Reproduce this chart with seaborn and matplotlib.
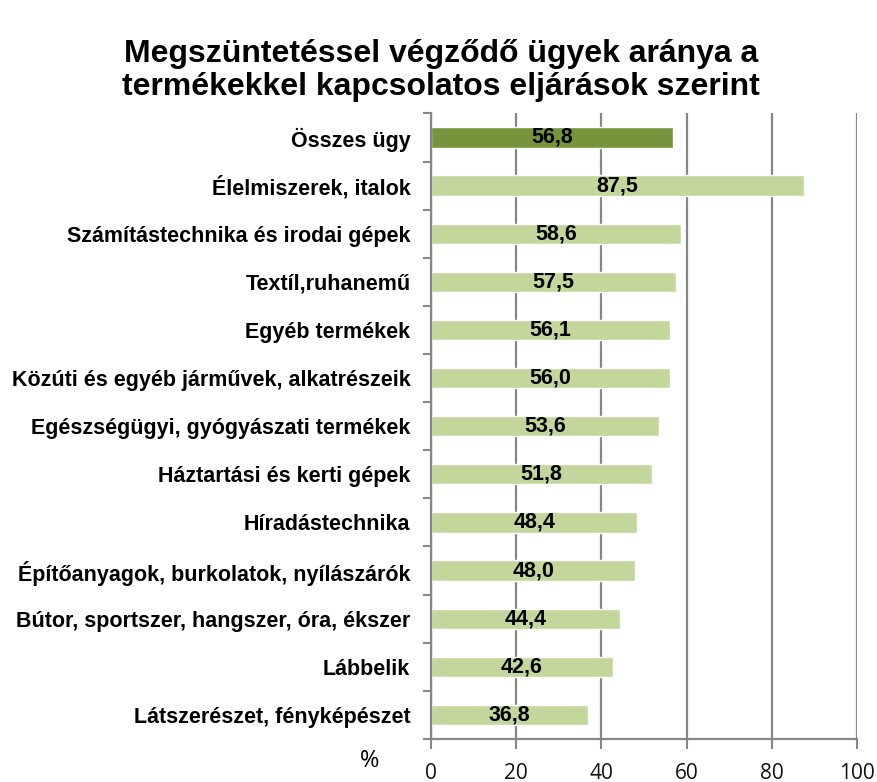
import pandas as pd
import numpy as np
import matplotlib
matplotlib.use('Agg')
import matplotlib.pyplot as plt
import seaborn as sns

categories = ['Összes ügy', 'Élelmiszerek, italok', 'Számítástechnika és irodai gépek',
              'Textíl,ruhanemű', 'Egyéb termékek', 'Közúti és egyéb járművek, alkatrészeik',
              'Egészségügyi, gyógyászati termékek', 'Háztartási és kerti gépek',
              'Híradástechnika', 'Építőanyagok, burkolatok, nyílászárók',
              'Bútor, sportszer, hangszer, óra, ékszer', 'Lábbelik',
              'Látszerészet, fényképészet']
values = [56.8, 87.5, 58.6, 57.5, 56.1, 56.0, 53.6, 51.8, 48.4, 48.0, 44.4, 42.6, 36.8]
xticks = [0, 20, 40, 60, 80, 100]

df = pd.DataFrame({'cat': categories, 'val': values})
colors = ['#77933C'] + ['#C3D69B'] * (len(categories) - 1)

sns.set_style('white')
plt.rcParams['font.family'] = ['Liberation Sans', 'DejaVu Sans']
plt.rcParams['text.color'] = 'black'
plt.rcParams['xtick.color'] = 'black'
plt.rcParams['ytick.color'] = 'black'

fig = plt.figure(figsize=(8.78, 7.82), dpi=100)
ax = fig.add_axes([0.491, 0.055, 0.485, 0.800])

sns.barplot(data=df, y='cat', x='val', hue='cat', palette=colors, legend=False,
            width=0.42, orient='h', ax=ax, saturation=1)

ax.set_xlim(0, 100)
ax.set_ylim(len(categories) - 0.5, -0.5)
ax.set_xticks(xticks)
ax.set_xticklabels([str(t) for t in xticks], fontsize=15, family='Open Sans', color='#111111')
ax.xaxis.grid(True, color='#878787', linewidth=1.6)
ax.set_axisbelow(True)

ax.set_yticks(range(len(categories)))
ax.set_yticklabels(categories, fontsize=15.5, fontweight='bold', color='black')
ax.set_yticks(np.arange(-0.5, len(categories), 1), minor=True)
ax.tick_params(axis='y', which='major', length=0, pad=15)
ax.tick_params(axis='y', which='minor', length=6, width=1.5, color='#878787', left=True)
ax.tick_params(axis='x', length=7, width=1.5, color='#878787', bottom=True, pad=10)

for s in ['top', 'right']:
    ax.spines[s].set_visible(False)
for s in ['left', 'bottom']:
    ax.spines[s].set_color('#878787')
    ax.spines[s].set_linewidth(1.6)

ax.set_xlabel('')
ax.set_ylabel('')

for i, v in enumerate(values):
    ax.text(v / 2, i, f'{v:.1f}'.replace('.', ','), ha='center', va='center',
            fontsize=15.5, fontweight='bold', color='black')

fig.text(0.421, 0.012, '%', fontsize=17, family='Open Sans', ha='center', va='bottom')
fig.text(0.502, 0.91, 'Megszüntetéssel végződő ügyek aránya a\ntermékekkel kapcsolatos eljárások szerint',
         ha='center', va='center', fontsize=23, fontweight='bold', linespacing=1.1)

fig.savefig('out.png', dpi=100)
